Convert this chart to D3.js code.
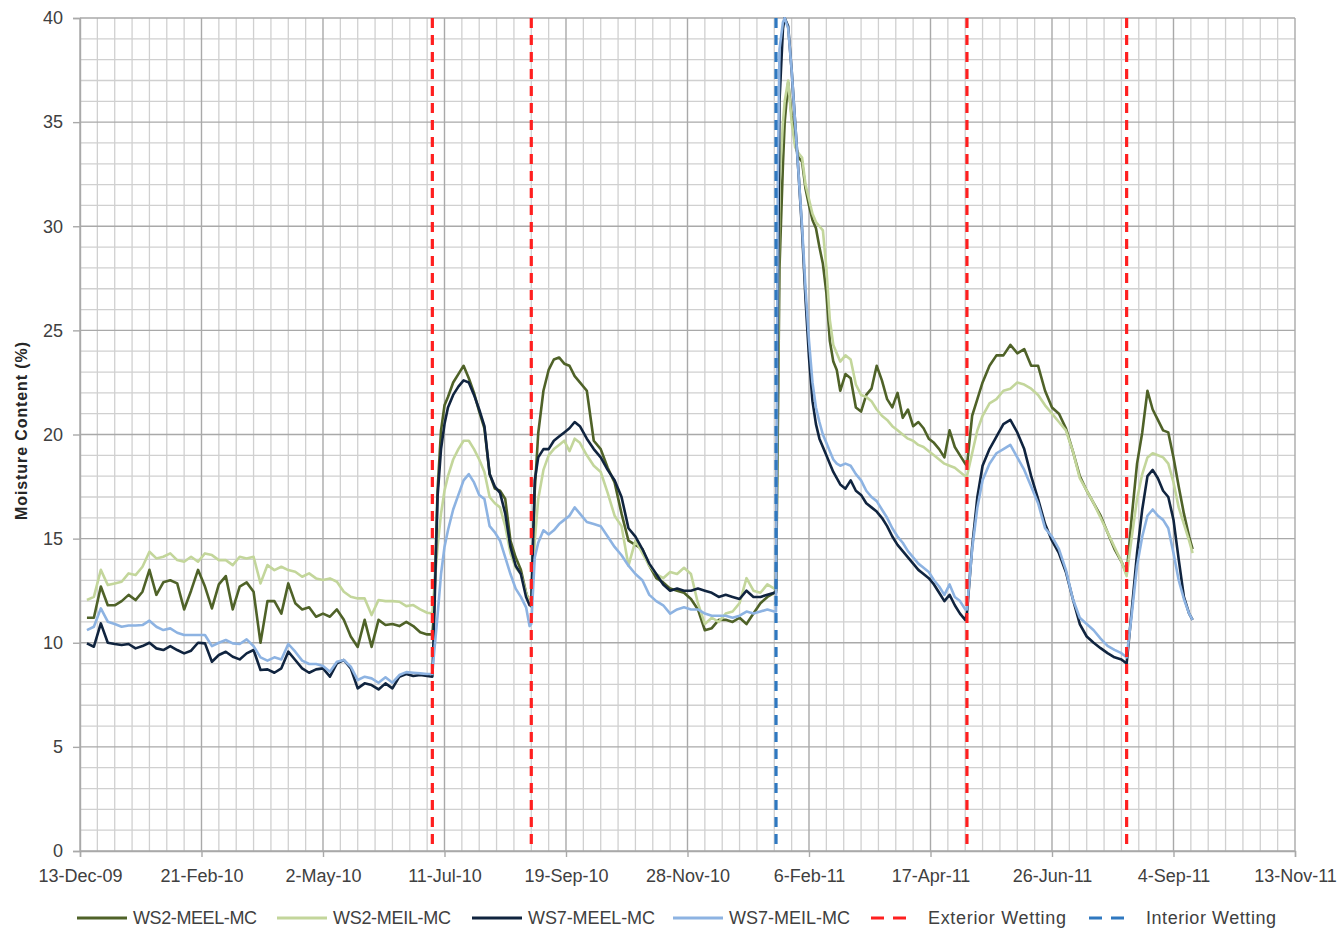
<!DOCTYPE html>
<html><head><meta charset="utf-8">
<script src="https://cdn.jsdelivr.net/npm/d3@7"></script>
<style>body{margin:0;background:#fff}</style>
</head><body>
<svg id="chart" width="1338" height="931"></svg>
<script>
// Day offsets from 13-Dec-2009
const days = [
4,8,12,16,20,24,28,32,36,40,44,48,52,56,60,64,68,72,76,80,84,88,92,96,100,104,108,112,116,120,124,128,132,136,140,144,148,152,156,160,164,168,172,176,180,184,188,192,196,200,203,
204,206,208,210,212,215,218,221,224,227,230,233,236,239,242,245,248,251,254,257,259,
260,262,264,267,270,273,276,279,282,285,288,292,296,300,304,308,312,316,320,324,328,332,336,340,344,348,352,356,360,364,368,372,376,380,384,388,392,396,400,
401,402,403,405,406,408,410,412,414,416,418,420,422,424,426,428,430,432,434,436,438,441,444,447,450,453,456,459,462,465,468,471,474,477,480,483,486,489,492,495,498,501,504,507,510,
511,514,517,520,524,528,532,536,540,544,548,552,556,560,564,568,572,576,580,584,588,592,596,600,603,606,609,612,615,618,621,624,627,630,633,636,639,641
];
const ws2MEEL = [
11.2,11.2,12.7,11.8,11.8,12.0,12.3,12.05,12.45,13.5,12.3,12.9,13.0,12.85,11.6,12.5,13.5,12.7,11.65,12.8,13.2,11.6,12.7,12.9,12.45,10.0,12.0,12.0,11.4,12.85,11.9,11.6,11.7,11.25,11.4,11.25,11.6,11.1,10.3,9.8,11.1,9.8,11.1,10.85,10.9,10.8,11.0,10.8,10.5,10.4,10.4,
11.5,17.3,20.2,21.4,21.8,22.5,22.9,23.3,22.7,22.0,21.1,20.3,18.1,17.4,17.3,16.9,14.9,14.1,13.5,12.4,11.9,
11.74,17.3,20.06,22.1,23.1,23.6,23.7,23.4,23.3,22.8,22.5,22.1,19.7,19.3,18.4,17.7,16.2,14.9,14.7,14.5,13.7,13.1,12.9,12.6,12.5,12.4,12.1,11.6,10.6,10.7,11.1,11.1,11.0,11.2,10.9,11.4,11.9,12.2,12.4,
12.5,20,28,33,35,36.9,35.3,34.0,33.3,33.1,31.8,31.0,30.3,29.9,29.0,28.2,26.8,24.5,23.5,23.1,22.1,22.9,22.7,21.3,21.1,21.9,22.2,23.3,22.6,21.7,21.3,22.0,20.8,21.2,20.4,20.6,20.3,19.8,19.6,19.3,18.9,20.2,19.4,19.0,18.6,
18.5,20.9,21.7,22.5,23.3,23.8,23.8,24.3,23.9,24.1,23.3,23.3,22.1,21.3,21.0,20.3,19.2,18.0,17.3,16.7,16.1,15.3,14.5,13.9,13.3,16.1,18.6,20.1,22.1,21.2,20.7,20.2,20.1,18.9,17.5,16.2,15.1,14.5
];
const ws2MEIL = [
12.05,12.2,13.5,12.77,12.85,12.93,13.33,13.25,13.65,14.37,14.05,14.13,14.29,13.97,13.89,14.13,13.89,14.29,14.21,13.97,13.97,13.73,14.13,14.05,14.13,12.85,13.73,13.49,13.65,13.49,13.41,13.17,13.33,13.09,13.01,13.09,12.93,12.45,12.21,12.13,12.13,11.33,12.05,12.0,12.0,11.97,11.76,11.81,11.6,11.44,11.41,
12.5,14.6,16.2,17.3,18.0,18.8,19.3,19.7,19.7,19.3,18.8,18.2,17.0,16.7,16.5,15.6,14.3,13.6,13.3,12.4,11.9,
11.8,14.9,16.9,18.3,19.0,19.3,19.5,19.7,19.2,19.8,19.6,19.0,18.5,18.2,17.2,16.1,15.6,13.7,14.9,14.3,13.7,13.3,13.1,13.4,13.3,13.6,13.3,11.9,10.9,11.2,11.0,11.4,11.5,11.9,13.1,12.5,12.4,12.8,12.6,
12.6,22,32,35,36,37.0,35.0,33.8,33.5,33.3,32.0,31.3,30.6,30.2,30.0,29.8,28.0,25.5,24.3,23.9,23.5,23.8,23.6,22.4,21.9,21.8,21.6,21.2,20.9,20.7,20.4,20.2,20.0,19.8,19.7,19.5,19.4,19.2,19.0,18.8,18.6,18.5,18.4,18.2,18.0,
18.0,19.1,20.2,20.9,21.5,21.7,22.1,22.2,22.5,22.4,22.2,21.9,21.4,21.0,20.6,20.2,19.2,17.9,17.3,16.7,16.0,15.3,14.6,13.9,13.2,15.1,16.9,18.1,18.9,19.1,19.0,18.9,18.6,17.7,16.5,15.7,14.9,14.3
];
const ws7MEEL = [
9.97,9.81,10.93,10.0,9.94,9.89,9.94,9.73,9.84,10.0,9.73,9.65,9.84,9.65,9.49,9.62,10.0,9.97,9.09,9.41,9.57,9.33,9.2,9.49,9.65,8.69,8.72,8.56,8.77,9.57,9.17,8.77,8.56,8.72,8.77,8.37,9.01,9.17,8.77,7.81,8.05,7.97,7.76,8.05,7.81,8.37,8.5,8.4,8.45,8.4,8.37,
11.0,17.0,19.3,20.5,21.3,21.9,22.3,22.6,22.5,21.9,21.2,20.4,18.1,17.5,17.2,16.2,14.6,13.7,13.3,12.2,11.8,
11.8,17.8,18.9,19.3,19.3,19.7,19.9,20.1,20.3,20.6,20.4,19.8,19.3,18.9,18.3,17.8,17.0,15.5,15.1,14.5,13.8,13.3,12.8,12.5,12.6,12.5,12.5,12.6,12.5,12.4,12.2,12.3,12.2,12.1,12.5,12.2,12.2,12.3,12.4,
12.4,25,36,39.5,40,39.6,37.5,35,32.5,29.8,26.5,23.7,21.6,20.5,19.8,19.4,19.0,18.6,18.2,17.9,17.6,17.4,17.8,17.3,17.1,16.7,16.5,16.3,16.0,15.6,15.1,14.7,14.4,14.1,13.8,13.5,13.3,13.1,12.8,12.4,12.0,12.3,11.8,11.4,11.1,
11.4,14.6,17.0,18.5,19.3,19.9,20.5,20.7,20.1,19.3,18.0,16.9,15.7,14.9,14.3,13.4,12.1,10.9,10.3,10.0,9.74,9.5,9.3,9.2,9.0,11.6,14.3,16.4,18.0,18.3,17.9,17.3,17.0,15.9,14.0,12.2,11.4,11.1
];
const ws7MEIL = [
10.61,10.77,11.65,11.01,10.9,10.77,10.83,10.83,10.85,11.06,10.77,10.61,10.69,10.48,10.37,10.37,10.37,10.37,9.84,10.0,10.13,9.97,9.94,10.16,9.84,9.3,9.14,9.3,9.2,9.94,9.57,9.14,8.98,8.98,8.88,8.61,9.09,9.17,8.85,8.21,8.37,8.29,8.08,8.34,8.08,8.45,8.59,8.56,8.53,8.5,8.5,
9.5,11.3,13.3,14.6,15.4,16.4,17.1,17.8,18.1,17.7,17.1,16.9,15.6,15.3,14.9,14.1,13.3,12.6,12.2,11.7,10.8,
10.9,14.1,14.8,15.4,15.2,15.4,15.7,15.9,16.1,16.5,16.2,15.8,15.7,15.6,15.1,14.6,14.2,13.7,13.3,13.0,12.3,12.0,11.8,11.4,11.6,11.7,11.6,11.6,11.4,11.3,11.3,11.3,11.2,11.3,11.5,11.4,11.5,11.6,11.5,
11.5,32,38.5,39.8,40,39.5,37.5,35,32.5,30,27,24.5,22.5,21.3,20.6,20.0,19.6,19.2,18.8,18.6,18.5,18.6,18.5,18.1,17.8,17.3,17.0,16.8,16.4,16.0,15.5,15.1,14.8,14.4,14.1,13.8,13.6,13.4,13.0,12.7,12.3,12.8,12.2,12.0,11.6,
11.6,14.5,16.5,17.8,18.6,19.1,19.3,19.5,18.9,18.3,17.5,16.7,15.5,15.1,14.5,13.5,12.1,11.2,10.9,10.6,10.2,9.85,9.66,9.5,9.3,11.4,13.7,15.1,16.1,16.4,16.1,15.9,15.5,14.3,13.0,12.1,11.4,11.1
];
const exteriorWetting = [203, 260, 511, 603];
const interiorWetting = [401];
const xTickDays = [0,70,140,210,280,350,420,490,560,630,700];
const yTicks = [0,5,10,15,20,25,30,35,40];

const startMs = Date.UTC(2009, 11, 13);
const toDate = d => new Date(startMs + d * 864e5);

const L = 80, R = 1295, T = 18, B = 851;
const x = d3.scaleUtc().domain([toDate(0), toDate(700)]).range([L, R]);
const y = d3.scaleLinear().domain([0, 40]).range([B, T]);
const svg = d3.select('#chart');
const FONT = '"Liberation Sans", Arial, sans-serif';

// grid
const g = svg.append('g');
const minorX = d3.range(0, 701, 10).filter(d => d % 70 !== 0);
const minorY = d3.range(0, 41, 1).filter(v => v % 5 !== 0);
g.selectAll('.mx').data(minorX).join('line')
  .attr('x1', d => x(toDate(d))).attr('x2', d => x(toDate(d)))
  .attr('y1', T).attr('y2', B).attr('stroke', '#d0d0d0').attr('stroke-width', 1.3);
g.selectAll('.my').data(minorY).join('line')
  .attr('x1', L).attr('x2', R).attr('y1', d => y(d)).attr('y2', d => y(d))
  .attr('stroke', '#d0d0d0').attr('stroke-width', 1.3);
g.selectAll('.Mx').data(xTickDays).join('line')
  .attr('x1', d => x(toDate(d))).attr('x2', d => x(toDate(d)))
  .attr('y1', T).attr('y2', B).attr('stroke', '#a9a9a9').attr('stroke-width', 1.4);
g.selectAll('.My').data(yTicks).join('line')
  .attr('x1', L).attr('x2', R).attr('y1', d => y(d)).attr('y2', d => y(d))
  .attr('stroke', '#a9a9a9').attr('stroke-width', 1.4);

// axes
const fmt = d3.utcFormat('%-d-%b-%y');
const xAxis = svg.append('g').attr('transform', `translate(0,${B})`)
  .call(d3.axisBottom(x).tickValues(xTickDays.map(toDate)).tickFormat(fmt).tickSize(6).tickPadding(12));
const yAxis = svg.append('g').attr('transform', `translate(${L},0)`)
  .call(d3.axisLeft(y).tickValues(yTicks).tickSize(7).tickPadding(10));
[xAxis, yAxis].forEach(a => {
  a.select('.domain').attr('stroke', '#a9a9a9').attr('stroke-width', 1.4);
  a.selectAll('.tick line').attr('stroke', '#a9a9a9').attr('stroke-width', 1.4);
  a.selectAll('text').attr('fill', '#404040').style('font-family', FONT).style('font-size', '18px');
});

svg.append('text').attr('transform', `translate(27,${(T + B) / 2 - 4}) rotate(-90)`)
  .attr('text-anchor', 'middle').style('font-family', FONT).style('font-size', '16px')
  .style('letter-spacing', '0.9px')
  .style('font-weight', 'bold').attr('fill', '#262626').text('Moisture Content (%)');

// series
const series = [
  {name: 'WS2-MEEL-MC', values: ws2MEEL, color: '#4f6228'},
  {name: 'WS2-MEIL-MC', values: ws2MEIL, color: '#c3d69b'},
  {name: 'WS7-MEEL-MC', values: ws7MEEL, color: '#10243f'},
  {name: 'WS7-MEIL-MC', values: ws7MEIL, color: '#8db3e2'}
];
svg.append('clipPath').attr('id', 'clip').append('rect')
  .attr('x', L).attr('y', T - 1).attr('width', R - L).attr('height', B - T + 1);
const line = d3.line().x((v, i) => x(toDate(days[i]))).y(v => y(v));
const pg = svg.append('g').attr('clip-path', 'url(#clip)');
series.forEach(s => {
  pg.append('path').datum(s.values).attr('d', line)
    .attr('fill', 'none').attr('stroke', s.color).attr('stroke-width', 2.6)
    .attr('stroke-linejoin', 'round');
});

// wetting lines
const wet = [
  ...exteriorWetting.map(d => ({d, color: '#ff1f1f'})),
  ...interiorWetting.map(d => ({d, color: '#2f78c0'}))
];
svg.append('g').selectAll('line').data(wet).join('line')
  .attr('x1', w => x(toDate(w.d))).attr('x2', w => x(toDate(w.d)))
  .attr('y1', T).attr('y2', B)
  .attr('stroke', w => w.color).attr('stroke-width', 3.2).attr('stroke-dasharray', '10,7');

// legend
const legendItems = [
  ...series.map(s => ({name: s.name, color: s.color, dash: null})),
  {name: 'Exterior Wetting', color: '#ff1f1f', dash: '13,9'},
  {name: 'Interior Wetting', color: '#2f78c0', dash: '13,9'}
];
const legendX = [77, 277, 472, 673, 871, 1089];
const lg = svg.append('g');
const ly = 918;
legendItems.forEach((it, i) => {
  const lx = legendX[i];
  lg.append('line').attr('x1', lx).attr('x2', lx + (it.dash ? 40 : 50)).attr('y1', ly).attr('y2', ly)
    .attr('stroke', it.color).attr('stroke-width', 3)
    .attr('stroke-dasharray', it.dash);
  const tx = lx + (it.dash ? 57 : 56);
  const t = lg.append('text').attr('x', tx).attr('y', ly).attr('dy', '0.35em')
    .style('font-family', FONT).style('font-size', '18px').attr('fill', '#404040').text(it.name);
  const w = t.node().getComputedTextLength();
  const target = [124, 118, 127, 121, 138, 130][i];
  t.attr('textLength', target).attr('lengthAdjust', 'spacing');
});
</script>
</body></html>
